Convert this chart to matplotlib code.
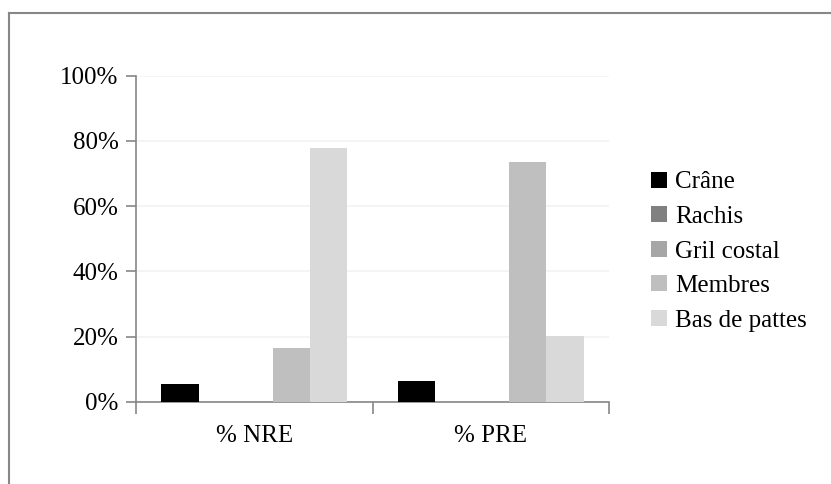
import matplotlib
matplotlib.use("Agg")
import matplotlib.pyplot as plt
from matplotlib.lines import Line2D
import numpy as np

categories = ["% NRE", "% PRE"]
series = ["Crâne", "Rachis", "Gril costal", "Membres", "Bas de pattes"]
values = {
    "Crâne": [5.4, 6.3],
    "Rachis": [0.0, 0.0],
    "Gril costal": [0.0, 0.0],
    "Membres": [16.5, 73.5],
    "Bas de pattes": [77.8, 20.2],
}
colors = ["#000000", "#808080", "#A6A6A6", "#BFBFBF", "#D9D9D9"]
yticks = [0, 20, 40, 60, 80, 100]
ytick_labels = ["0%", "20%", "40%", "60%", "80%", "100%"]

plt.rcParams['font.family'] = ['Liberation Serif', 'DejaVu Serif']
FS = 18

fig = plt.figure(figsize=(8.31, 4.84), dpi=100)
ax = fig.add_axes([136/831, 1-401.7/484, (609-136)/831, (401.7-75.7)/484])

bw = 0.157
centers = np.arange(len(categories)) + 0.5
for i, s in enumerate(series):
    ax.bar(centers + (i - 2) * bw, values[s], width=bw, color=colors[i],
           label=s, zorder=3)

ax.set_xlim(0, len(categories))
ax.set_ylim(0, 100)
ax.set_yticks(yticks)
ax.set_yticklabels(ytick_labels, fontsize=FS)
ax.yaxis.grid(True, color="#F2F2F2", linewidth=1.2, zorder=0)
ax.set_axisbelow(True)

ax.set_xticks(np.arange(len(categories) + 1))
ax.set_xticklabels([])
ax.set_xticks(centers, minor=True)
ax.set_xticklabels(categories, minor=True, fontsize=FS)
ax.tick_params(axis='x', which='major', direction='out', length=8.6,
               width=1.2, color="#868686")
ax.tick_params(axis='x', which='minor', length=0, pad=17)
ax.tick_params(axis='y', direction='out', length=7, width=1.2,
               color="#868686", pad=5.5)

for side in ["top", "right"]:
    ax.spines[side].set_visible(False)
for side in ["left", "bottom"]:
    ax.spines[side].set_color("#868686")
    ax.spines[side].set_linewidth(1.2)

leg = ax.legend(loc="center left", bbox_to_anchor=(651/831, 1-251.5/484),
                bbox_transform=fig.transFigure, frameon=False, fontsize=FS,
                handlelength=0.62, handleheight=0.6, handletextpad=0.35,
                labelspacing=0.5, borderpad=0, borderaxespad=0)

# outer chart border (top and left visible)
fig.add_artist(Line2D([8.5/831, 1.0], [1-12.5/484, 1-12.5/484],
                      transform=fig.transFigure, color="#878787", linewidth=1.5))
fig.add_artist(Line2D([8.5/831, 8.5/831], [0.0, 1-12.5/484],
                      transform=fig.transFigure, color="#878787", linewidth=1.5))

fig.savefig("out.png", dpi=100)
